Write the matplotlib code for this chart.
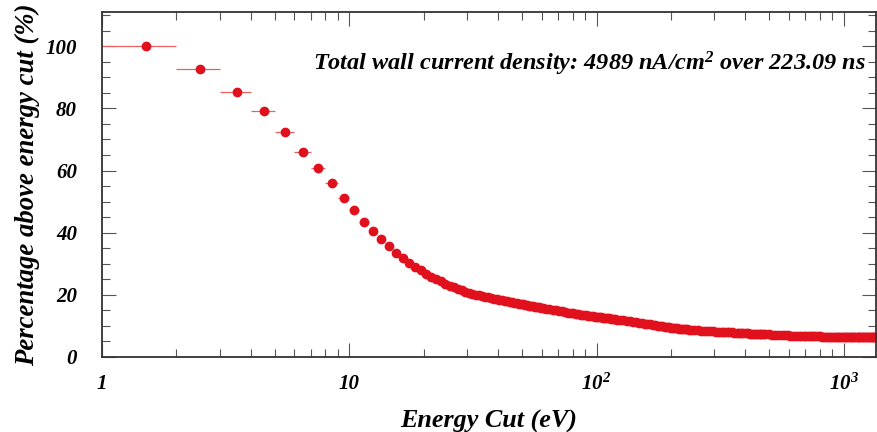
import numpy as np
import matplotlib
matplotlib.use("Agg")
import matplotlib.pyplot as plt
from matplotlib.ticker import FixedLocator, FixedFormatter, LogLocator, MultipleLocator, NullFormatter

plt.rcParams['font.family'] = ['Liberation Serif', 'DejaVu Serif']
plt.rcParams['mathtext.fontset'] = 'custom'
for k in ('rm', 'it', 'bf', 'sf'):
    plt.rcParams['mathtext.' + k] = 'Liberation Serif:bold:italic'

# ---- data: bin centres (1 eV bins) and percentage above energy cut ----
energy_fine = np.arange(1.5, 61.0, 1.0)        # 60 bins
energy_2 = np.arange(62.5, 121.0, 2.0)         # 30 bins
energy_4 = np.arange(124.5, 241.0, 4.0)        # 30 bins
energy_8 = np.arange(248.5, 481.0, 8.0)        # 30 bins
energy_16 = np.arange(496.5, 1345.0, 16.0)     # 54 bins

pct_fine = [100.0, 92.7, 85.4, 79.0, 72.3, 66.1, 60.7, 55.9, 51.0, 47.2,
            43.4, 40.4, 37.9, 35.6, 33.5, 31.9, 30.4, 29.0, 27.9, 26.7,
            25.8, 25.0, 24.3, 23.6, 23.0, 22.4, 21.9, 21.4, 21.0, 20.6,
            20.3, 20.0, 19.8, 19.6, 19.4, 19.2, 19.0, 18.8, 18.6, 18.4,
            18.25, 18.1, 17.95, 17.8, 17.65, 17.5, 17.35, 17.2, 17.05, 16.9,
            16.75, 16.6, 16.5, 16.4, 16.25, 16.15, 16.05, 15.95, 15.85, 15.75]
pct_2 = [15.6, 15.4, 15.2, 15.0, 14.8, 14.65, 14.45, 14.3, 14.15, 14.0,
         13.85, 13.75, 13.6, 13.5, 13.4, 13.3, 13.2, 13.1, 13.0, 12.9,
         12.8, 12.75, 12.65, 12.55, 12.45, 12.4, 12.3, 12.2, 12.15, 12.05]
pct_4 = [11.9, 11.75, 11.6, 11.45, 11.3, 11.15, 11.0, 10.9, 10.75, 10.6,
         10.5, 10.35, 10.25, 10.1, 10.0, 9.9, 9.75, 9.65, 9.55, 9.45,
         9.35, 9.3, 9.2, 9.15, 9.05, 9.0, 8.95, 8.9, 8.8, 8.75]
pct_8 = [8.65, 8.6, 8.5, 8.45, 8.4, 8.3, 8.25, 8.2, 8.15, 8.1,
         8.05, 8.0, 7.95, 7.9, 7.85, 7.8, 7.75, 7.7, 7.7, 7.65,
         7.6, 7.55, 7.5, 7.5, 7.45, 7.4, 7.4, 7.35, 7.35, 7.3]
pct_16 = [7.25, 7.2, 7.15, 7.1, 7.05, 7.0, 6.95, 6.9, 6.9, 6.85,
          6.8, 6.75, 6.75, 6.7, 6.7, 6.65, 6.65, 6.6, 6.6, 6.6,
          6.55, 6.55, 6.55, 6.5, 6.5, 6.5, 6.5, 6.5, 6.45, 6.45,
          6.45, 6.45, 6.45, 6.45, 6.45, 6.45, 6.4, 6.4, 6.4, 6.4,
          6.4, 6.4, 6.4, 6.4, 6.4, 6.4, 6.4, 6.4, 6.4, 6.4,
          6.4, 6.4, 6.4, 6.4]

bin_half_width = 0.5

x_ticks = [1, 10, 100, 1000]
x_tick_labels = ['1', '10', '$10^{2}$', '$10^{3}$']
y_ticks = [0, 20, 40, 60, 80, 100]
y_tick_labels = ['0', '20', '40', '60', '80', '100']

title_text = 'Total wall current density: 4989 nA/cm$^{2}$ over 223.09 ns'
x_label = 'Energy Cut (eV)'
y_label = 'Percentage above energy cut (%)'

energy = np.concatenate([energy_fine, energy_2, energy_4, energy_8, energy_16])
pct = np.concatenate([pct_fine, pct_2, pct_4, pct_8, pct_16])
assert len(energy) == len(pct)

W, H = 877, 432
fig = plt.figure(figsize=(W / 100, H / 100), dpi=100)
ax = fig.add_axes([102 / W, 1 - 357 / H, (876 - 102) / W, (357 - 12) / H])

red = '#e0101c'
ax.errorbar(energy, pct, xerr=bin_half_width, fmt='o', color=red, ms=6,
            mec=red, mfc=red, ecolor='#e86060', elinewidth=0.9, capsize=0)

ax.set_xscale('log')
ax.set_xlim(1, 1350)
ax.set_ylim(0, 111)

ax.xaxis.set_major_locator(FixedLocator(x_ticks))
ax.xaxis.set_major_formatter(FixedFormatter(x_tick_labels))
ax.xaxis.set_minor_locator(LogLocator(base=10, subs=np.arange(2, 10)))
ax.xaxis.set_minor_formatter(NullFormatter())
ax.yaxis.set_major_locator(FixedLocator(y_ticks))
ax.yaxis.set_major_formatter(FixedFormatter(y_tick_labels))
ax.yaxis.set_minor_locator(MultipleLocator(5))

ax.tick_params(which='both', direction='in', top=True, right=True, color='#555555')
ax.tick_params(which='major', length=10, width=0.8)
ax.tick_params(which='minor', length=6, width=0.8)
ax.tick_params(axis='y', which='major', pad=18, labelsize=15)
ax.tick_params(axis='x', which='major', pad=12, labelsize=15)
for lab in ax.get_xticklabels() + ax.get_yticklabels():
    lab.set_fontweight('bold')
    lab.set_fontstyle('italic')

for s in ax.spines.values():
    s.set_color('#333333')
    s.set_linewidth(1.3)

ax.set_xlabel(x_label, fontsize=18.8, fontweight='bold', fontstyle='italic', labelpad=11)
ax.set_ylabel(y_label, fontsize=19.3, fontweight='bold', fontstyle='italic', labelpad=4)

ax.text(0.987, 0.829, title_text, transform=ax.transAxes, ha='right', va='baseline',
        fontsize=17.5, fontweight='bold', fontstyle='italic')

fig.savefig('out.png', dpi=100)
